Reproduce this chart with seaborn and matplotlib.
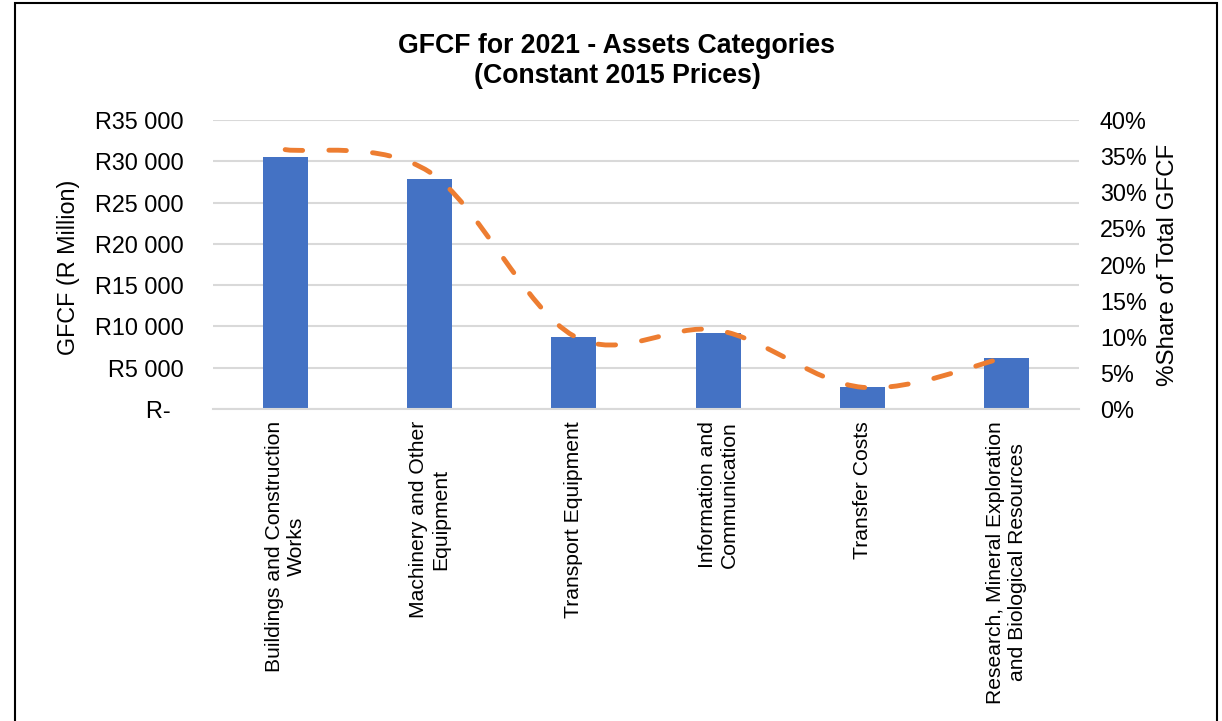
import matplotlib
matplotlib.use("Agg")
import matplotlib.pyplot as plt
import seaborn as sns
import pandas as pd
import numpy as np
from matplotlib.path import Path
from matplotlib.patches import PathPatch, Rectangle

# ---- data ----
categories = [
    "Buildings and Construction\nWorks",
    "Machinery and Other\nEquipment",
    "Transport Equipment",
    "Information and\nCommunication",
    "Transfer Costs",
    "Research, Mineral Exploration\nand Biological Resources",
]
gfcf_r_million = [30560, 27860, 8680, 9240, 2630, 6140]
share_pct = [35.9, 32.8, 10.1, 10.9, 3.0, 7.2]

left_ticks = [0, 5000, 10000, 15000, 20000, 25000, 30000, 35000]
left_tick_labels = ["R-  ", "R5 000", "R10 000", "R15 000", "R20 000",
                    "R25 000", "R30 000", "R35 000"]
right_ticks = [0, 5, 10, 15, 20, 25, 30, 35, 40]
right_tick_labels = ["0%", "5%", "10%", "15%", "20%", "25%", "30%", "35%", "40%"]

title_text = "GFCF for 2021 - Assets Categories\n(Constant 2015 Prices)"
left_label = "GFCF (R Million)"
right_label = "%Share of Total GFCF"

# ---- style ----
sns.set_theme(style="white")
plt.rcParams["font.family"] = ["Liberation Sans", "DejaVu Sans"]
for k in ["text.color", "axes.labelcolor", "xtick.color", "ytick.color"]:
    plt.rcParams[k] = "black"

BAR = "#4472C4"
LINE = "#ED7D31"
GRID = "#D9D9D9"
FS = 16.8
FSX = 15.2

W, H = 1222, 721
fig = plt.figure(figsize=(W / 100, H / 100), dpi=100)
fig.patch.set_facecolor("white")

x0, x1, yt, yb = 213, 1079, 120, 409
ax = fig.add_axes([x0 / W, 1 - yb / H, (x1 - x0) / W, (yb - yt) / H])

df = pd.DataFrame({"cat": categories, "gfcf": gfcf_r_million})
sns.barplot(data=df, x="cat", y="gfcf", color=BAR, saturation=1, width=0.31,
            ax=ax, linewidth=0)

ax.set_xlim(-0.5, len(categories) - 0.5)
ax.set_ylim(0, 35000)
ax.set_yticks(left_ticks, left_tick_labels)
ax.yaxis.grid(True, color=GRID, lw=1.5)
ax.set_axisbelow(True)
for s in ["left", "right", "top"]:
    ax.spines[s].set_visible(False)
ax.spines["bottom"].set_color(GRID)
ax.spines["bottom"].set_linewidth(1.5)
ax.tick_params(axis="y", length=0, pad=21, labelsize=FS)
ax.tick_params(axis="x", length=0, pad=8.6, labelsize=FSX)
for lab in ax.get_xticklabels():
    lab.set_rotation(90)
    lab.set_ha("center")
    lab.set_va("top")
    lab.set_multialignment("center")
ax.set_xlabel("")
ax.set_ylabel(left_label, fontsize=FS)
ax.yaxis.set_label_coords((80 - x0) / (x1 - x0), 0.49)

# ---- secondary axis with smoothed dashed line ----
ax2 = ax.twinx()
ax2.set_ylim(0, 40)
ax2.set_yticks(right_ticks, right_tick_labels)
ax2.tick_params(axis="y", length=0, pad=15, labelsize=FS)
for s in ax2.spines.values():
    s.set_visible(False)
ax2.grid(False)
ax2.set_ylabel(right_label, fontsize=17.4)
ax2.yaxis.set_label_coords((1157 - x0) / (x1 - x0), 0.5)

pts = np.column_stack([np.arange(len(share_pct)), share_pct]).astype(float)
verts = [tuple(pts[0])]
codes = [Path.MOVETO]
n = len(pts)
for i in range(n - 1):
    p0, p1 = pts[i], pts[i + 1]
    pm = pts[i - 1] if i > 0 else pts[i]
    pp = pts[i + 2] if i + 2 < n else pts[i + 1]
    c1 = p0 + (p1 - pm) / 6.0
    c2 = p1 - (pp - p0) / 6.0
    verts += [tuple(c1), tuple(c2), tuple(p1)]
    codes += [Path.CURVE4] * 3
patch = PathPatch(Path(verts, codes), fill=False, edgecolor=LINE, lw=3.5,
                  linestyle=(0, (3.6, 5.4)), capstyle="round")
ax2.add_patch(patch)

# ---- title ----
fig.text(617 / W, 1 - 61 / H, title_text, ha="center", va="center",
         fontsize=19.2, fontweight="bold", linespacing=1.2)

# ---- frame ----
fig.patches.append(Rectangle((15 / W, -0.05), (1217 - 15) / W, 1.05 - 3 / H,
                             transform=fig.transFigure, fill=False,
                             edgecolor="black", lw=1.5))

fig.savefig("out.png", dpi=100, facecolor="white")
